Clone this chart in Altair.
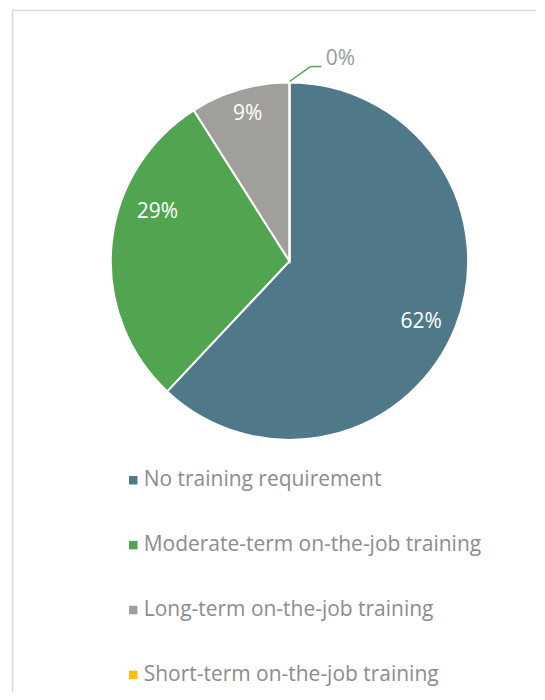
import math
import altair as alt
import pandas as pd

categories = [
    "No training requirement",
    "Moderate-term on-the-job training",
    "Long-term on-the-job training",
    "Short-term on-the-job training",
]
values = [62, 29, 9, 0]
labels = ["62%", "29%", "9%", "0%"]
colors = ["#4F7988", "#52A550", "#A09F9B", "#FFC000"]

df = pd.DataFrame({"category": categories, "value": values,
                   "label": labels, "order": list(range(len(categories)))})

FONT = "Open Sans"
W, H = 529, 684
CX, CY, R = 282, 252, 179
TOTAL = sum(values)
theta_scale = alt.Scale(domain=[0, TOTAL])

base = alt.Chart(df)

pie = base.mark_arc(outerRadius=R, stroke="white", strokeWidth=2).encode(
    theta=alt.Theta("value:Q", stack=True, scale=theta_scale),
    color=alt.Color(
        "category:N",
        scale=alt.Scale(domain=categories, range=colors),
        legend=alt.Legend(
            title=None, orient="none", legendX=115, legendY=461,
            direction="vertical", symbolType="square", symbolSize=72,
            symbolStrokeWidth=0, labelFontSize=21, labelFont=FONT,
            labelColor="#8C8C8C", rowPadding=43, labelOffset=0,
            labelLimit=500,
        ),
    ),
    order=alt.Order("order:Q"),
    x=alt.value(CX),
    y=alt.value(CY),
)

# label placement style: radius, dx, dy, colour
label_style = {
    categories[0]: (142, 0, 9, "white"),
    categories[1]: (133, 0, -37, "white"),
    categories[2]: (150, 0, -3, "white"),
    categories[3]: (203, 51, 0, "#9A9A9A"),
}

text_layers = []
for cat in categories:
    r, dx, dy, col = label_style[cat]
    t = (
        base.transform_window(cum="sum(value)", sort=[alt.SortField("order")], frame=[None, 0])
        .transform_calculate(mid="datum.cum - datum.value / 2")
        .transform_filter(alt.datum.category == cat)
        .mark_text(radius=r, dx=dx, dy=dy, fontSize=21, font=FONT, color=col)
        .encode(
            theta=alt.Theta("mid:Q", scale=theta_scale, stack=None),
            text="label:N",
            x=alt.value(CX),
            y=alt.value(CY),
        )
    )
    text_layers.append(t)

# leader line for the 0% slice, starting at its angle on the rim
a = 2 * math.pi * sum(values) / TOTAL
sx = CX + (R + 1) * math.sin(a)
sy = CY - (R + 1) * math.cos(a)
ex, ey = sx + 21, sy - 15
one = alt.Chart(pd.DataFrame({"k": [0]}))
leader1 = one.mark_rule(color="#52A550", strokeWidth=1.5).encode(
    x=alt.value(sx), y=alt.value(sy), x2=alt.value(ex), y2=alt.value(ey))
leader2 = one.mark_rule(color="#52A550", strokeWidth=1.5).encode(
    x=alt.value(ex), y=alt.value(ey), x2=alt.value(ex + 11), y2=alt.value(ey))

# chart frame
frame_left = one.mark_rule(color="#D9D9D9", strokeWidth=1.5).encode(
    x=alt.value(4.5), y=alt.value(0), y2=alt.value(H))
frame_top = one.mark_rule(color="#D9D9D9", strokeWidth=1.5).encode(
    x=alt.value(4), x2=alt.value(W), y=alt.value(0.75))

chart = (
    alt.layer(frame_left, frame_top, pie, *text_layers, leader1, leader2)
    .properties(width=W, height=H, padding=0)
    .configure_view(stroke=None)
)

chart.save("out.html", embed_options={"renderer": "svg", "actions": False})
